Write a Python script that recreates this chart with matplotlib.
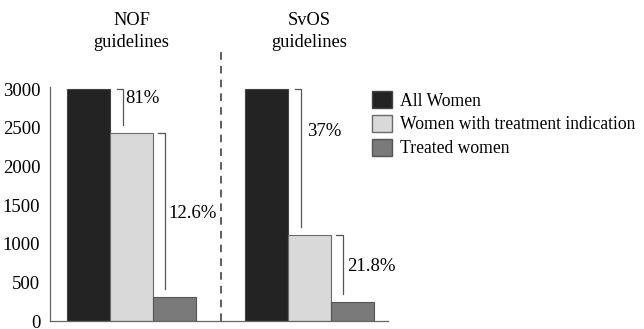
import matplotlib
matplotlib.use("Agg")
import matplotlib.pyplot as plt
from matplotlib.patches import Patch

plt.rcParams['font.family'] = ['Liberation Serif', 'DejaVu Serif']

groups = ['NOF\nguidelines', 'SvOS\nguidelines']
series = ['All Women', 'Women with treatment indication', 'Treated women']
all_women = [3000, 3000]
indicated = [2430, 1110]
treated = [306, 242]
pct_indicated = ['81%', '37%']
pct_treated = ['12.6%', '21.8%']

colors = ['#232323', '#d9d9d9', '#7a7a7a']
edges = ['#444444', '#6a6a6a', '#555555']

fig = plt.figure(figsize=(6.44, 3.29), dpi=100)
ax = fig.add_axes([50 / 644, 8 / 329, 338 / 644, 232 * 3020 / 3000 / 329])

group_x = [0.0, 4.14]
values = [all_women, indicated, treated]
for k in range(3):
    xs = [g + k for g in group_x]
    ax.bar(xs, values[k], width=1.0, color=colors[k], edgecolor=edges[k],
           linewidth=0.8, label=series[k])

lc = '#555555'
for i, g in enumerate(group_x):
    # bracket from all women down to indicated
    x1 = g + 0.5
    ax.plot([x1 + 0.17, x1 + 0.31, x1 + 0.31],
            [all_women[i], all_women[i], indicated[i] + 100],
            color=lc, lw=0.9, clip_on=False)
    # bracket from indicated down to treated
    x2 = g + 1.5
    ax.plot([x2 + 0.12, x2 + 0.28, x2 + 0.28],
            [indicated[i], indicated[i], treated[i] + 110],
            color=lc, lw=0.9, clip_on=False)

fs = 13.5
ax.text(group_x[0] + 0.86, 2880, pct_indicated[0], fontsize=fs, ha='left', va='center')
ax.text(group_x[0] + 1.86, 1390, pct_treated[0], fontsize=fs, ha='left', va='center')
ax.text(group_x[1] + 0.95, 2450, pct_indicated[1], fontsize=fs, ha='left', va='center')
ax.text(group_x[1] + 1.88, 700, pct_treated[1], fontsize=fs, ha='left', va='center')

for i, g in enumerate(group_x):
    ax.text(g + 1.0, 3740, groups[i], fontsize=13.2, ha='center', va='center',
            linespacing=1.35, clip_on=False)

ax.plot([3.08, 3.08], [0, 3520], ls=(0, (5, 4)), color='#333333', lw=1.1, clip_on=False)

ax.set_xlim(-0.9, 6.97)
ax.set_ylim(0, 3020)
ax.set_yticks(range(0, 3001, 500))
ax.set_xticks([])
ax.tick_params(axis='y', length=0, pad=7, labelsize=13.5)
for s in ['top', 'right']:
    ax.spines[s].set_visible(False)
for s in ['left', 'bottom']:
    ax.spines[s].set_color('#666666')
    ax.spines[s].set_linewidth(0.9)

handles = [Patch(facecolor=colors[k], edgecolor=edges[k], label=series[k]) for k in range(3)]
fig.legend(handles=handles, loc='upper left', bbox_to_anchor=(372 / 644, 1 - 91 / 329),
           frameon=False, fontsize=12.7, handlelength=1.12, handleheight=1.12,
           handletextpad=0.45, labelspacing=0.3, borderaxespad=0, borderpad=0)

fig.savefig('out.png', dpi=100)
